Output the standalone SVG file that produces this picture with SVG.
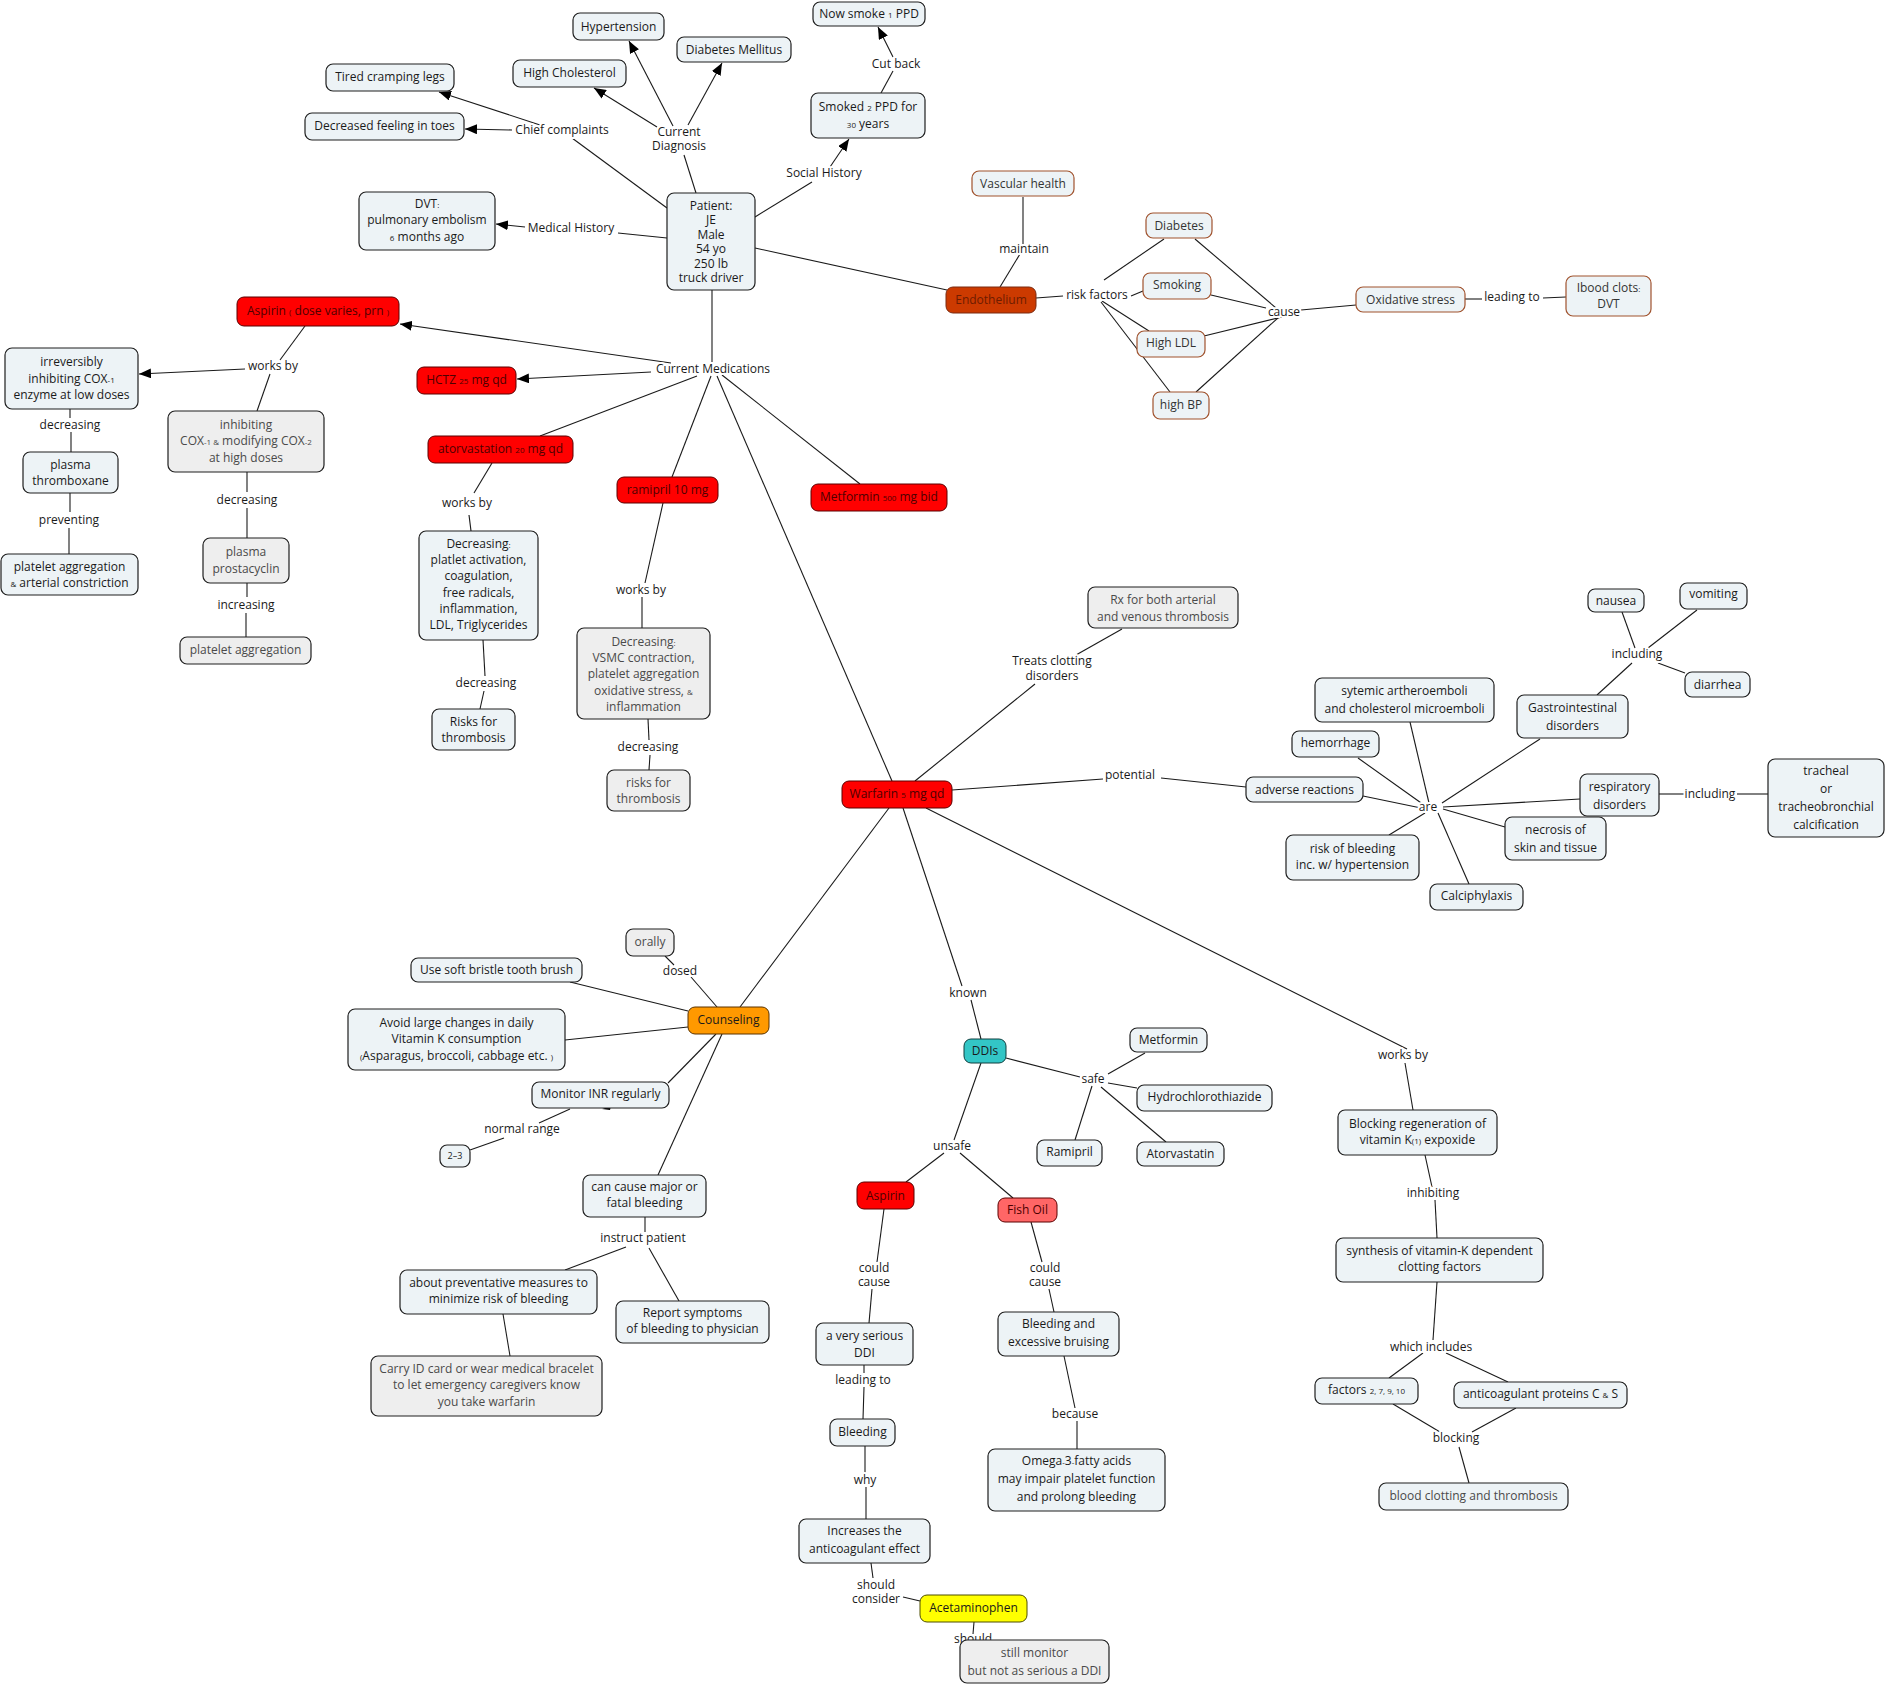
<svg xmlns="http://www.w3.org/2000/svg" width="1887" height="1685" viewBox="0 0 1887 1685">
<style>
.bg{fill:#ffffff}
.nd{fill:#edf3f6;stroke:#1f1f1f;stroke-width:1.2}
.gy{fill:#eeeeee}
.br{stroke:#a0522d}
.rd{fill:#ff0000;stroke:#5a0000}
.en{fill:#cc3a00;stroke:#7a2a10}
.or{fill:#ff9900;stroke:#5a3300}
.tl{fill:#33c6c6;stroke:#0f3f3f}
.fo{fill:#ff6666;stroke:#5a0000}
.ye{fill:#ffff00;stroke:#4d4d00}
text{font-family:"Open Sans","Liberation Sans",sans-serif;font-size:12px;text-anchor:middle;fill:#1a1a1a}
.tg{fill:#4a4a4a}
.tb{fill:#333333}
.tr{fill:#4d0000}
.te{fill:#6e1c00}
.s{font-size:8px}
.lb{paint-order:stroke;stroke:#ffffff;stroke-width:4px;stroke-linejoin:round}
#connectors line{stroke:#1a1a1a;stroke-width:1.1;fill:none}
</style>
<defs>
<marker id="arr" viewBox="0 0 12 10" refX="12" refY="5" markerWidth="12" markerHeight="10" orient="auto" markerUnits="userSpaceOnUse">
<path d="M0,0 L12,5 L0,10 z" fill="#000"/>
</marker>
</defs>
<rect class="bg" x="0" y="0" width="1887" height="1685"/>

<g id="connectors">
<line x1="540" y1="125" x2="439" y2="92" marker-end="url(#arr)"/>
<line x1="512" y1="130" x2="465" y2="129" marker-end="url(#arr)"/>
<line x1="667" y1="208" x2="572" y2="138"/>
<line x1="673" y1="126" x2="629" y2="41" marker-end="url(#arr)"/>
<line x1="657" y1="127" x2="594" y2="88" marker-end="url(#arr)"/>
<line x1="688" y1="125" x2="722" y2="63" marker-end="url(#arr)"/>
<line x1="696" y1="193" x2="684" y2="155"/>
<line x1="667" y1="238" x2="618" y2="233"/>
<line x1="525" y1="227" x2="496" y2="224" marker-end="url(#arr)"/>
<line x1="755" y1="217" x2="812" y2="182"/>
<line x1="830" y1="167" x2="849" y2="139" marker-end="url(#arr)"/>
<line x1="881" y1="93" x2="893" y2="71"/>
<line x1="893" y1="57" x2="878" y2="27" marker-end="url(#arr)"/>
<line x1="755" y1="248" x2="947" y2="290"/>
<line x1="1000" y1="287" x2="1020" y2="254"/>
<line x1="1023" y1="244" x2="1023" y2="197"/>
<line x1="1036" y1="298" x2="1063" y2="296"/>
<line x1="1104" y1="280" x2="1164" y2="239"/>
<line x1="1131" y1="296" x2="1143" y2="291"/>
<line x1="1102" y1="301" x2="1149" y2="331"/>
<line x1="1101" y1="302" x2="1170" y2="392"/>
<line x1="1195" y1="239" x2="1276" y2="308"/>
<line x1="1211" y1="295" x2="1266" y2="308"/>
<line x1="1204" y1="336" x2="1282" y2="317"/>
<line x1="1196" y1="392" x2="1279" y2="317"/>
<line x1="1301" y1="310" x2="1356" y2="305"/>
<line x1="1465" y1="299" x2="1482" y2="299"/>
<line x1="1543" y1="298" x2="1566" y2="297"/>
<line x1="712" y1="290" x2="712" y2="362"/>
<line x1="671" y1="363" x2="400" y2="324" marker-end="url(#arr)"/>
<line x1="651" y1="372" x2="517" y2="379" marker-end="url(#arr)"/>
<line x1="697" y1="376" x2="540" y2="436"/>
<line x1="711" y1="376" x2="672" y2="477"/>
<line x1="717" y1="376" x2="892" y2="781"/>
<line x1="722" y1="375" x2="860" y2="484"/>
<line x1="305" y1="326" x2="280" y2="360"/>
<line x1="245" y1="369" x2="139" y2="374" marker-end="url(#arr)"/>
<line x1="270" y1="374" x2="257" y2="411"/>
<line x1="70" y1="409" x2="70" y2="418"/>
<line x1="71" y1="432" x2="71" y2="452"/>
<line x1="70" y1="493" x2="70" y2="512"/>
<line x1="69" y1="528" x2="69" y2="554"/>
<line x1="247" y1="472" x2="247" y2="492"/>
<line x1="247" y1="508" x2="247" y2="538"/>
<line x1="247" y1="583" x2="247" y2="597"/>
<line x1="246" y1="613" x2="246" y2="637"/>
<line x1="492" y1="463" x2="474" y2="493"/>
<line x1="469" y1="515" x2="471" y2="531"/>
<line x1="483" y1="640" x2="485" y2="676"/>
<line x1="484" y1="691" x2="480" y2="709"/>
<line x1="663" y1="503" x2="645" y2="583"/>
<line x1="642" y1="597" x2="642" y2="628"/>
<line x1="648" y1="719" x2="649" y2="740"/>
<line x1="650" y1="755" x2="649" y2="770"/>
<line x1="915" y1="781" x2="1035" y2="684"/>
<line x1="1076" y1="655" x2="1122" y2="629"/>
<line x1="952" y1="790" x2="1103" y2="779"/>
<line x1="1161" y1="778" x2="1246" y2="787"/>
<line x1="1363" y1="796" x2="1421" y2="808"/>
<line x1="1424" y1="805" x2="1358" y2="758"/>
<line x1="1429" y1="803" x2="1410" y2="722"/>
<line x1="1442" y1="803" x2="1540" y2="739"/>
<line x1="1443" y1="807" x2="1580" y2="799"/>
<line x1="1443" y1="809" x2="1505" y2="827"/>
<line x1="1438" y1="813" x2="1469" y2="884"/>
<line x1="1425" y1="813" x2="1389" y2="835"/>
<line x1="1597" y1="695" x2="1632" y2="663"/>
<line x1="1635" y1="648" x2="1622" y2="612"/>
<line x1="1648" y1="648" x2="1697" y2="610"/>
<line x1="1658" y1="663" x2="1685" y2="673"/>
<line x1="1659" y1="794" x2="1684" y2="794"/>
<line x1="1737" y1="794" x2="1768" y2="794"/>
<line x1="926" y1="808" x2="1407" y2="1049"/>
<line x1="1405" y1="1063" x2="1413" y2="1110"/>
<line x1="1425" y1="1155" x2="1432" y2="1187"/>
<line x1="1435" y1="1200" x2="1437" y2="1238"/>
<line x1="1437" y1="1282" x2="1433" y2="1340"/>
<line x1="1423" y1="1353" x2="1389" y2="1378"/>
<line x1="1446" y1="1353" x2="1508" y2="1382"/>
<line x1="1393" y1="1404" x2="1440" y2="1432"/>
<line x1="1516" y1="1408" x2="1472" y2="1432"/>
<line x1="1459" y1="1447" x2="1469" y2="1483"/>
<line x1="903" y1="808" x2="962" y2="986"/>
<line x1="971" y1="1000" x2="981" y2="1039"/>
<line x1="1006" y1="1058" x2="1080" y2="1077"/>
<line x1="1108" y1="1074" x2="1145" y2="1053"/>
<line x1="1108" y1="1083" x2="1137" y2="1088"/>
<line x1="1092" y1="1086" x2="1075" y2="1140"/>
<line x1="1101" y1="1087" x2="1166" y2="1142"/>
<line x1="981" y1="1063" x2="954" y2="1140"/>
<line x1="944" y1="1153" x2="906" y2="1182"/>
<line x1="960" y1="1153" x2="1013" y2="1198"/>
<line x1="884" y1="1209" x2="877" y2="1262"/>
<line x1="872" y1="1289" x2="869" y2="1323"/>
<line x1="1031" y1="1222" x2="1042" y2="1262"/>
<line x1="1049" y1="1289" x2="1054" y2="1312"/>
<line x1="864" y1="1365" x2="864" y2="1373"/>
<line x1="864" y1="1387" x2="863" y2="1419"/>
<line x1="865" y1="1446" x2="865" y2="1474"/>
<line x1="866" y1="1487" x2="866" y2="1519"/>
<line x1="871" y1="1563" x2="873" y2="1578"/>
<line x1="903" y1="1597" x2="920" y2="1601"/>
<line x1="974" y1="1622" x2="973" y2="1634"/>
<line x1="1064" y1="1356" x2="1075" y2="1408"/>
<line x1="1077" y1="1421" x2="1077" y2="1449"/>
<line x1="889" y1="808" x2="740" y2="1007"/>
<line x1="717" y1="1007" x2="691" y2="977"/>
<line x1="674" y1="965" x2="665" y2="956"/>
<line x1="688" y1="1011" x2="570" y2="982"/>
<line x1="688" y1="1027" x2="565" y2="1040"/>
<line x1="716" y1="1034" x2="668" y2="1083"/>
<line x1="570" y1="1109" x2="539" y2="1123"/>
<line x1="504" y1="1138" x2="470" y2="1150"/>
<line x1="722" y1="1034" x2="658" y2="1175"/>
<line x1="645" y1="1217" x2="645" y2="1232"/>
<line x1="626" y1="1247" x2="565" y2="1270"/>
<line x1="649" y1="1248" x2="679" y2="1301"/>
<line x1="503" y1="1314" x2="510" y2="1356"/>
<path d="M602,1109 L611,1106 L610,1110 z" fill="#000"/>
</g>

<g id="link-labels">
<text class="lb" x="562" y="134">Chief complaints</text>
<text class="lb" x="679" y="136">Current</text>
<text class="lb" x="679" y="150">Diagnosis</text>
<text class="lb" x="571" y="232">Medical History</text>
<text class="lb" x="824" y="177">Social History</text>
<text class="lb" x="896" y="68">Cut back</text>
<text class="lb" x="1024" y="253">maintain</text>
<text class="lb" x="1097" y="299">risk factors</text>
<text class="lb" x="1284" y="316">cause</text>
<text class="lb" x="1512" y="301">leading to</text>
<text class="lb" x="713" y="373">Current Medications</text>
<text class="lb" x="273" y="370">works by</text>
<text class="lb" x="70" y="429">decreasing</text>
<text class="lb" x="69" y="524">preventing</text>
<text class="lb" x="247" y="504">decreasing</text>
<text class="lb" x="246" y="609">increasing</text>
<text class="lb" x="467" y="507">works by</text>
<text class="lb" x="486" y="687">decreasing</text>
<text class="lb" x="641" y="594">works by</text>
<text class="lb" x="648" y="751">decreasing</text>
<text class="lb" x="1052" y="665">Treats clotting</text>
<text class="lb" x="1052" y="680">disorders</text>
<text class="lb" x="1130" y="779">potential</text>
<text class="lb" x="1428" y="811">are</text>
<text class="lb" x="1637" y="658">including</text>
<text class="lb" x="1710" y="798">including</text>
<text class="lb" x="1403" y="1059">works by</text>
<text class="lb" x="1433" y="1197">inhibiting</text>
<text class="lb" x="1431" y="1351">which includes</text>
<text class="lb" x="1456" y="1442">blocking</text>
<text class="lb" x="968" y="997">known</text>
<text class="lb" x="1093" y="1083">safe</text>
<text class="lb" x="952" y="1150">unsafe</text>
<text class="lb" x="874" y="1272">could</text>
<text class="lb" x="874" y="1286">cause</text>
<text class="lb" x="1045" y="1272">could</text>
<text class="lb" x="1045" y="1286">cause</text>
<text class="lb" x="863" y="1384">leading to</text>
<text class="lb" x="865" y="1484">why</text>
<text class="lb" x="876" y="1589">should</text>
<text class="lb" x="876" y="1603">consider</text>
<text class="lb" x="973" y="1643">should</text>
<text class="lb" x="1075" y="1418">because</text>
<text class="lb" x="680" y="975">dosed</text>
<text class="lb" x="522" y="1133">normal range</text>
<text class="lb" x="643" y="1242">instruct patient</text>
</g>

<g id="n-hypertension"><rect class="nd" x="573" y="13" width="91" height="27" rx="7"/><text x="618.5" y="31">Hypertension</text></g>
<g id="n-highchol"><rect class="nd" x="513" y="60" width="113" height="27" rx="7"/><text x="569.5" y="77">High Cholesterol</text></g>
<g id="n-diabetesm"><rect class="nd" x="677" y="37" width="114" height="25" rx="7"/><text x="734" y="54">Diabetes Mellitus</text></g>
<g id="n-tiredlegs"><rect class="nd" x="326" y="64" width="128" height="27" rx="7"/><text x="390" y="81">Tired cramping legs</text></g>
<g id="n-dectoes"><rect class="nd" x="305" y="113" width="159" height="27" rx="7"/><text x="384.5" y="130">Decreased feeling in toes</text></g>
<g id="n-dvt"><rect class="nd" x="359" y="192" width="136" height="58" rx="7"/><text x="427" y="208">DVT<tspan class="s">:</tspan></text><text x="427" y="224">pulmonary embolism</text><text x="427" y="241"><tspan class="s">6</tspan> months ago</text></g>
<g id="n-patient"><rect class="nd" x="667" y="193" width="88" height="97" rx="7"/><text x="711" y="210">Patient:</text><text x="711" y="224">JE</text><text x="711" y="239">Male</text><text x="711" y="253">54 yo</text><text x="711" y="268">250 lb</text><text x="711" y="282">truck driver</text></g>
<g id="n-nowsmoke"><rect class="nd" x="813" y="2" width="112" height="24" rx="7"/><text x="869" y="18">Now smoke <tspan class="s">1</tspan> PPD</text></g>
<g id="n-smoked"><rect class="nd" x="811" y="93" width="114" height="45" rx="7"/><text x="868" y="111">Smoked <tspan class="s">2</tspan> PPD for</text><text x="868" y="128"><tspan class="s">30</tspan> years</text></g>
<g id="n-vascular"><rect class="nd br" x="972" y="171" width="102" height="25" rx="7"/><text class="tb" x="1023" y="188">Vascular health</text></g>
<g id="n-endothelium"><rect class="en" x="946" y="287" width="90" height="26" rx="7"/><text class="te" x="991" y="304">Endothelium</text></g>
<g id="n-diabetes"><rect class="nd br" x="1146" y="213" width="66" height="25" rx="7"/><text class="tb" x="1179" y="230">Diabetes</text></g>
<g id="n-smoking"><rect class="nd br" x="1143" y="273" width="68" height="26" rx="7"/><text class="tb" x="1177" y="289">Smoking</text></g>
<g id="n-highldl"><rect class="nd br" x="1137" y="331" width="68" height="26" rx="7"/><text class="tb" x="1171" y="347">High LDL</text></g>
<g id="n-highbp"><rect class="nd br" x="1153" y="392" width="56" height="27" rx="7"/><text class="tb" x="1181" y="409">high BP</text></g>
<g id="n-oxidative"><rect class="nd br" x="1356" y="287" width="109" height="25" rx="7"/><text class="tb" x="1410.5" y="304">Oxidative stress</text></g>
<g id="n-clots"><rect class="nd br" x="1566" y="276" width="85" height="40" rx="7"/><text class="tb" x="1608.5" y="292">Ibood clots<tspan class="s">:</tspan></text><text class="tb" x="1608.5" y="308">DVT</text></g>
<g id="n-aspirin"><rect class="rd" x="237" y="297" width="162" height="29" rx="7"/><text class="tr" x="318" y="315">Aspirin <tspan class="s">(</tspan> dose varies, prn <tspan class="s">)</tspan></text></g>
<g id="n-irreversibly"><rect class="nd" x="5" y="348" width="133" height="61" rx="7"/><text x="71.5" y="366">irreversibly</text><text x="71.5" y="383">inhibiting COX<tspan class="s">-1</tspan></text><text x="71.5" y="399">enzyme at low doses</text></g>
<g id="n-thromboxane"><rect class="nd" x="23" y="452" width="95" height="41" rx="7"/><text x="70.5" y="469">plasma</text><text x="70.5" y="485">thromboxane</text></g>
<g id="n-platart"><rect class="nd" x="1" y="554" width="137" height="41" rx="7"/><text x="69.5" y="571">platelet aggregation</text><text x="69.5" y="587"><tspan class="s">&amp;</tspan> arterial constriction</text></g>
<g id="n-inhcox"><rect class="nd gy" x="168" y="411" width="156" height="61" rx="7"/><text class="tg" x="246" y="429">inhibiting</text><text class="tg" x="246" y="445">COX<tspan class="s">-1 &amp;</tspan> modifying COX<tspan class="s">-2</tspan></text><text class="tg" x="246" y="462">at high doses</text></g>
<g id="n-prostacyclin"><rect class="nd gy" x="203" y="538" width="86" height="45" rx="7"/><text class="tg" x="246" y="556">plasma</text><text class="tg" x="246" y="573">prostacyclin</text></g>
<g id="n-platagg"><rect class="nd gy" x="180" y="637" width="131" height="27" rx="7"/><text class="tg" x="245.5" y="654">platelet aggregation</text></g>
<g id="n-hctz"><rect class="rd" x="417" y="367" width="99" height="27" rx="7"/><text class="tr" x="466.5" y="384">HCTZ <tspan class="s">25</tspan> mg qd</text></g>
<g id="n-atorva"><rect class="rd" x="428" y="436" width="145" height="27" rx="7"/><text class="tr" x="500.5" y="453">atorvastation <tspan class="s">20</tspan> mg qd</text></g>
<g id="n-decplatlet"><rect class="nd" x="419" y="531" width="119" height="109" rx="7"/><text x="478.5" y="548">Decreasing<tspan class="s">:</tspan></text><text x="478.5" y="564">platlet activation,</text><text x="478.5" y="580">coagulation,</text><text x="478.5" y="597">free radicals,</text><text x="478.5" y="613">inflammation,</text><text x="478.5" y="629">LDL, Triglycerides</text></g>
<g id="n-riskst"><rect class="nd" x="432" y="709" width="83" height="41" rx="7"/><text x="473.5" y="726">Risks for</text><text x="473.5" y="742">thrombosis</text></g>
<g id="n-ramipril"><rect class="rd" x="617" y="477" width="101" height="26" rx="7"/><text class="tr" x="667.5" y="494">ramipril 10 mg</text></g>
<g id="n-decvsmc"><rect class="nd gy" x="577" y="628" width="133" height="91" rx="7"/><text class="tg" x="643.5" y="646">Decreasing<tspan class="s">:</tspan></text><text class="tg" x="643.5" y="662">VSMC contraction,</text><text class="tg" x="643.5" y="678">platelet aggregation</text><text class="tg" x="643.5" y="695">oxidative stress, <tspan class="s">&amp;</tspan></text><text class="tg" x="643.5" y="711">inflammation</text></g>
<g id="n-riskst2"><rect class="nd gy" x="607" y="770" width="83" height="41" rx="7"/><text class="tg" x="648.5" y="787">risks for</text><text class="tg" x="648.5" y="803">thrombosis</text></g>
<g id="n-metformin"><rect class="rd" x="811" y="484" width="136" height="27" rx="7"/><text class="tr" x="879" y="501">Metformin <tspan class="s">500</tspan> mg bid</text></g>
<g id="n-warfarin"><rect class="rd" x="842" y="781" width="110" height="27" rx="7"/><text class="tr" x="897" y="798">Warfarin <tspan class="s">5</tspan> mg qd</text></g>
<g id="n-rx"><rect class="nd gy" x="1088" y="587" width="150" height="41" rx="7"/><text class="tg" x="1163" y="604">Rx for both arterial</text><text class="tg" x="1163" y="621">and venous thrombosis</text></g>
<g id="n-nausea"><rect class="nd" x="1588" y="589" width="56" height="23" rx="7"/><text x="1616" y="605">nausea</text></g>
<g id="n-vomiting"><rect class="nd" x="1680" y="583" width="67" height="26" rx="7"/><text x="1713.5" y="598">vomiting</text></g>
<g id="n-diarrhea"><rect class="nd" x="1685" y="672" width="65" height="25" rx="7"/><text x="1717.5" y="689">diarrhea</text></g>
<g id="n-sytemic"><rect class="nd" x="1315" y="678" width="179" height="44" rx="7"/><text x="1404.5" y="695">sytemic artheroemboli</text><text x="1404.5" y="713">and cholesterol microemboli</text></g>
<g id="n-gi"><rect class="nd" x="1517" y="695" width="111" height="43" rx="7"/><text x="1572.5" y="712">Gastrointestinal</text><text x="1572.5" y="730">disorders</text></g>
<g id="n-hemorrhage"><rect class="nd" x="1292" y="731" width="87" height="26" rx="7"/><text x="1335.5" y="747">hemorrhage</text></g>
<g id="n-adverse"><rect class="nd" x="1246" y="777" width="117" height="25" rx="7"/><text x="1304.5" y="794">adverse reactions</text></g>
<g id="n-respiratory"><rect class="nd" x="1580" y="774" width="79" height="42" rx="7"/><text x="1619.5" y="791">respiratory</text><text x="1619.5" y="809">disorders</text></g>
<g id="n-tracheal"><rect class="nd" x="1768" y="759" width="116" height="78" rx="7"/><text x="1826" y="775">tracheal</text><text x="1826" y="793">or</text><text x="1826" y="811">tracheobronchial</text><text x="1826" y="829">calcification</text></g>
<g id="n-necrosis"><rect class="nd" x="1505" y="817" width="101" height="43" rx="7"/><text x="1555.5" y="834">necrosis of</text><text x="1555.5" y="852">skin and tissue</text></g>
<g id="n-riskbleed"><rect class="nd" x="1286" y="835" width="133" height="45" rx="7"/><text x="1352.5" y="853">risk of bleeding</text><text x="1352.5" y="869">inc.  w/ hypertension</text></g>
<g id="n-calciphylaxis"><rect class="nd" x="1430" y="884" width="93" height="26" rx="7"/><text x="1476.5" y="900">Calciphylaxis</text></g>
<g id="n-orally"><rect class="nd gy" x="626" y="929" width="48" height="27" rx="7"/><text class="tg" x="650" y="946">orally</text></g>
<g id="n-softbrush"><rect class="nd" x="411" y="958" width="171" height="24" rx="7"/><text x="496.5" y="974">Use soft bristle tooth brush</text></g>
<g id="n-counseling"><rect class="or" x="688" y="1007" width="81" height="27" rx="7"/><text x="728.5" y="1024">Counseling</text></g>
<g id="n-avoid"><rect class="nd" x="348" y="1009" width="217" height="61" rx="7"/><text x="456.5" y="1027">Avoid large changes in daily</text><text x="456.5" y="1043">Vitamin K consumption</text><text x="456.5" y="1060"><tspan class="s">(</tspan>Asparagus, broccoli, cabbage etc. <tspan class="s">)</tspan></text></g>
<g id="n-monitor"><rect class="nd" x="532" y="1082" width="137" height="26" rx="7"/><text x="600.5" y="1098">Monitor INR regularly</text></g>
<g id="n-range"><rect class="nd" x="440" y="1145" width="30" height="22" rx="7"/><text x="455" y="1159" style="font-size:9px">2–3</text></g>
<g id="n-cancause"><rect class="nd" x="583" y="1175" width="123" height="42" rx="7"/><text x="644.5" y="1191">can cause major or</text><text x="644.5" y="1207">fatal bleeding</text></g>
<g id="n-preventative"><rect class="nd" x="400" y="1270" width="197" height="44" rx="7"/><text x="498.5" y="1287">about preventative measures to</text><text x="498.5" y="1303">minimize risk of bleeding</text></g>
<g id="n-report"><rect class="nd" x="616" y="1301" width="153" height="42" rx="7"/><text x="692.5" y="1317">Report symptoms</text><text x="692.5" y="1333">of bleeding to physician</text></g>
<g id="n-carryid"><rect class="nd gy" x="371" y="1356" width="231" height="60" rx="7"/><text class="tg" x="486.5" y="1373">Carry ID card or wear medical bracelet</text><text class="tg" x="486.5" y="1389">to let emergency caregivers know</text><text class="tg" x="486.5" y="1406">you take warfarin</text></g>
<g id="n-ddis"><rect class="tl" x="964" y="1039" width="42" height="24" rx="7"/><text x="985" y="1055">DDIs</text></g>
<g id="n-metformin-safe"><rect class="nd" x="1130" y="1028" width="77" height="24" rx="7"/><text x="1168.5" y="1044">Metformin</text></g>
<g id="n-hctz-safe"><rect class="nd" x="1137" y="1085" width="135" height="26" rx="7"/><text x="1204.5" y="1101">Hydrochlorothiazide</text></g>
<g id="n-ramipril-safe"><rect class="nd" x="1037" y="1140" width="65" height="26" rx="7"/><text x="1069.5" y="1156">Ramipril</text></g>
<g id="n-atorva-safe"><rect class="nd" x="1137" y="1142" width="87" height="24" rx="7"/><text x="1180.5" y="1158">Atorvastatin</text></g>
<g id="n-aspirin-ddi"><rect class="rd" x="857" y="1182" width="57" height="27" rx="7"/><text class="tr" x="885.5" y="1200">Aspirin</text></g>
<g id="n-fishoil"><rect class="fo" x="998" y="1198" width="59" height="24" rx="7"/><text class="tr" x="1027.5" y="1214">Fish Oil</text></g>
<g id="n-veryserious"><rect class="nd" x="816" y="1323" width="97" height="42" rx="7"/><text x="864.5" y="1340">a very serious</text><text x="864.5" y="1357">DDI</text></g>
<g id="n-bleeding"><rect class="nd" x="830" y="1419" width="65" height="27" rx="7"/><text x="862.5" y="1436">Bleeding</text></g>
<g id="n-increases"><rect class="nd" x="799" y="1519" width="131" height="44" rx="7"/><text x="864.5" y="1535">Increases the</text><text x="864.5" y="1553">anticoagulant effect</text></g>
<g id="n-acetaminophen"><rect class="ye" x="920" y="1595" width="107" height="27" rx="7"/><text x="973.5" y="1612">Acetaminophen</text></g>
<g id="n-stillmonitor"><rect class="nd gy" x="960" y="1640" width="149" height="43" rx="7"/><text class="tg" x="1034.5" y="1657">still monitor</text><text class="tg" x="1034.5" y="1675">but not as serious a DDI</text></g>
<g id="n-bleedbruise"><rect class="nd" x="998" y="1312" width="121" height="44" rx="7"/><text x="1058.5" y="1328">Bleeding and</text><text x="1058.5" y="1346">excessive bruising</text></g>
<g id="n-omega"><rect class="nd" x="988" y="1449" width="177" height="62" rx="7"/><text x="1076.5" y="1465">Omega<tspan class="s">-</tspan>3<tspan class="s">-</tspan>fatty acids</text><text x="1076.5" y="1483">may impair platelet function</text><text x="1076.5" y="1501">and prolong bleeding</text></g>
<g id="n-blocking"><rect class="nd" x="1338" y="1110" width="159" height="45" rx="7"/><text x="1417.5" y="1128">Blocking regeneration of</text><text x="1417.5" y="1144">vitamin K<tspan class="s">(1)</tspan> expoxide</text></g>
<g id="n-synthesis"><rect class="nd" x="1336" y="1238" width="207" height="44" rx="7"/><text x="1439.5" y="1255">synthesis of vitamin-K dependent</text><text x="1439.5" y="1271">clotting factors</text></g>
<g id="n-factors"><rect class="nd" x="1315" y="1378" width="103" height="26" rx="7"/><text x="1366.5" y="1394">factors <tspan class="s">2, 7, 9, 10</tspan></text></g>
<g id="n-anticoag"><rect class="nd" x="1454" y="1382" width="173" height="26" rx="7"/><text x="1540.5" y="1398">anticoagulant proteins C <tspan class="s">&amp;</tspan> S</text></g>
<g id="n-bloodclot"><rect class="nd" x="1379" y="1483" width="189" height="27" rx="7"/><text class="tg" x="1473.5" y="1500">blood clotting and thrombosis</text></g>
</svg>
